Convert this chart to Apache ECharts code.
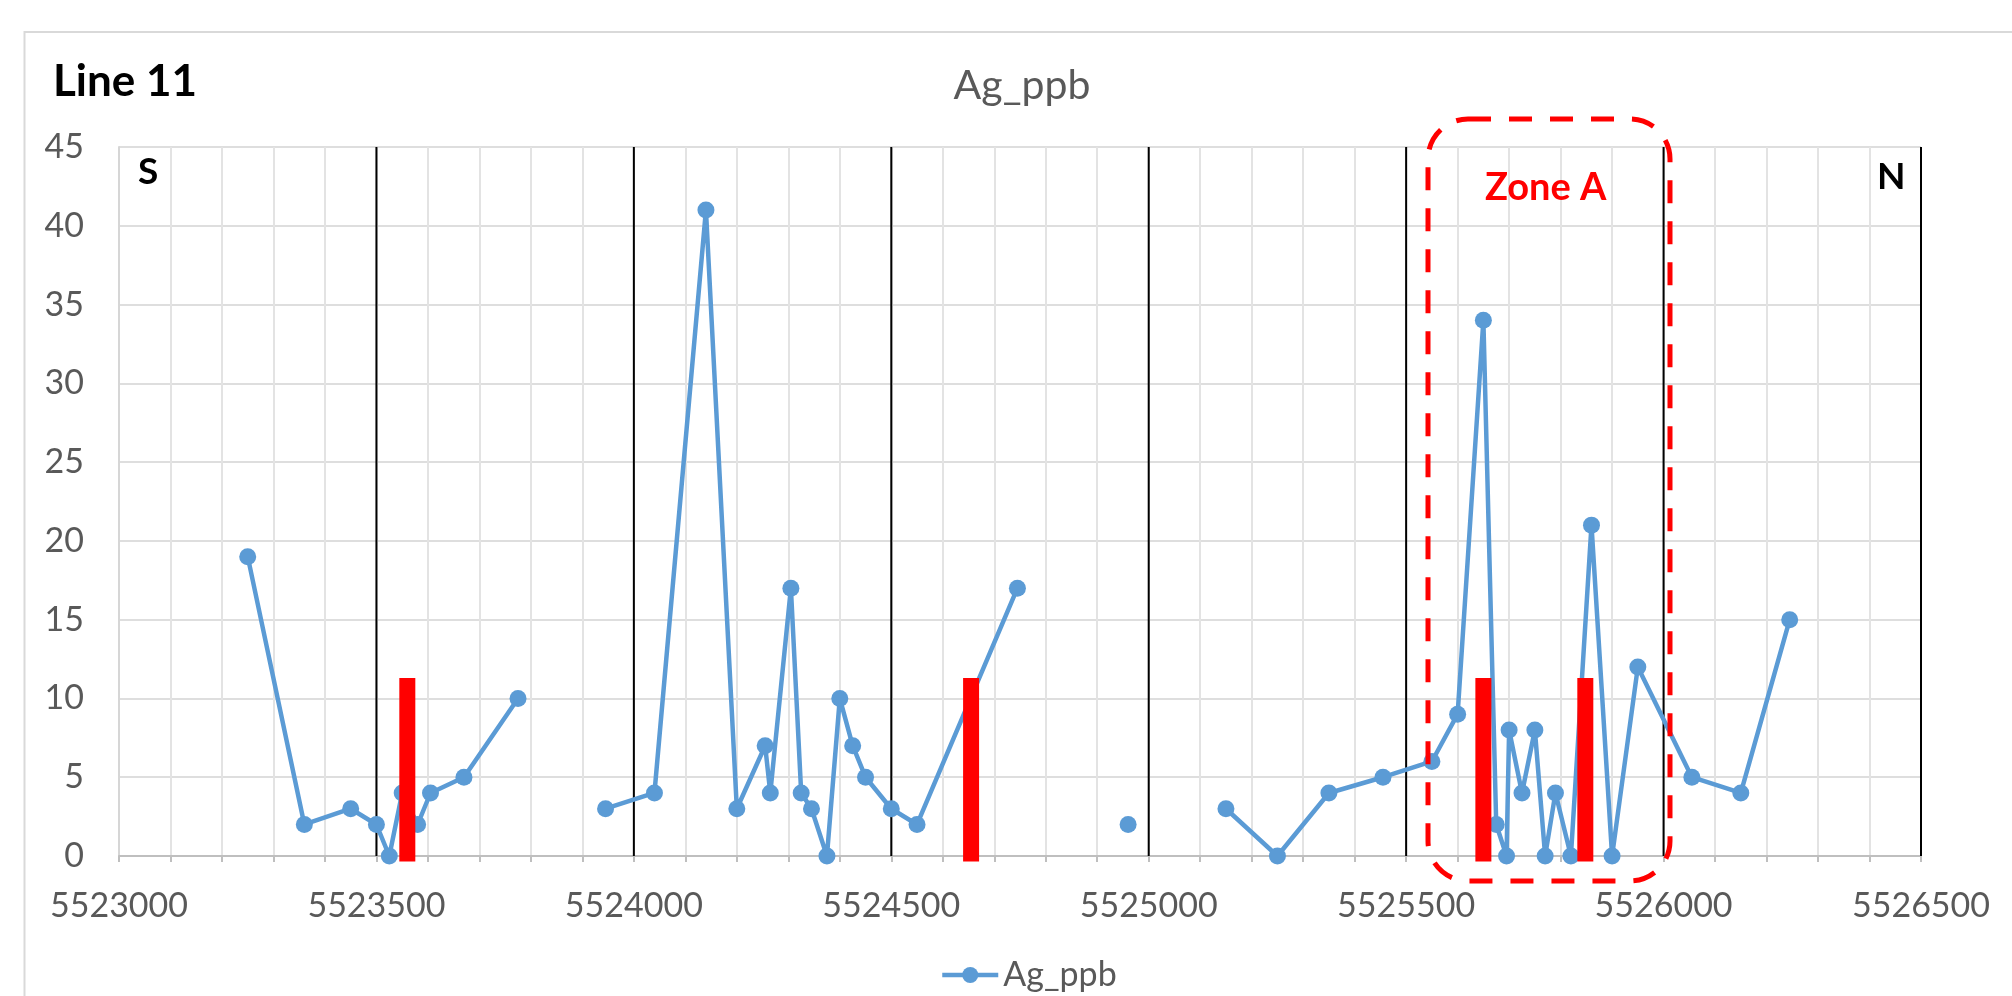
<!DOCTYPE html>
<html>
<head>
<meta charset="utf-8">
<script src="https://cdn.jsdelivr.net/npm/echarts@6/dist/echarts.min.js"></script>
<style>
html,body{margin:0;padding:0;background:#fff;}
#chart{width:2012px;height:996px;}
</style>
</head>
<body>
<div id="chart"></div>
<script>
// ---- data ----
const seriesName = 'Ag_ppb';
// northing of each sample; null marks a gap in the line
const northing = [
  5523250, 5523360, 5523450, 5523500, 5523525, 5523550, 5523580, 5523605, 5523670, 5523775,
  null,
  5523945, 5524040, 5524140, 5524200, 5524255, 5524265, 5524305, 5524325, 5524345, 5524375,
  5524400, 5524425, 5524450, 5524500, 5524550, 5524745,
  null,
  5524960,
  null,
  5525150, 5525250, 5525350, 5525455, 5525550, 5525600, 5525650, 5525675, 5525695, 5525700,
  5525725, 5525750, 5525770, 5525790, 5525820, 5525860, 5525900, 5525950, 5526055, 5526150,
  5526245
];
const agPpb = [
  19, 2, 3, 2, 0, 4, 2, 4, 5, 10,
  null,
  3, 4, 41, 3, 7, 4, 17, 4, 3, 0,
  10, 7, 5, 3, 2, 17,
  null,
  2,
  null,
  3, 0, 4, 5, 6, 9, 34, 2, 0, 8,
  4, 8, 0, 4, 0, 21, 0, 12, 5, 4,
  15
];
// red vertical markers (northing, top value, bottom value)
const redMarkX = [5523560, 5524655, 5525650, 5525848];
const redMarkTop = [11.3, 11.3, 11.3, 11.3];
const redMarkBottom = [-0.35, -0.35, -0.35, -0.35];
// black section lines
const blackLineX = [5523500, 5524000, 5524500, 5525000, 5525500, 5526000, 5526500];
// axes
const xMin = 5523000, xMax = 5526500, xStep = 500;
const yMin = 0, yMax = 45, yStep = 5;

// ---- chart ----
const FONT = 'Lato';
const GREY_TEXT = '#595959';
const chart = echarts.init(document.getElementById('chart'), null, {renderer: 'canvas'});

const lineData = northing.map((x, i) => (x === null || agPpb[i] === null) ? ['-', '-'] : [x, agPpb[i]]);
const redData = redMarkX.map((x, i) => [x, redMarkTop[i], redMarkBottom[i]]);
const blackData = blackLineX.map(x => [x, yMin, yMax]);

const option = {
  backgroundColor: '#fff',
  animation: false,
  title: {
    text: seriesName,
    left: 1017,
    top: 60,
    textAlign: 'center',
    textStyle: {fontFamily: FONT, fontSize: 41, fontWeight: 'normal', color: GREY_TEXT}
  },
  legend: {
    data: [seriesName],
    left: 935,
    top: 953,
    itemWidth: 56,
    itemHeight: 20,
    itemGap: 6,
    lineStyle: {width: 4.5},
    itemStyle: {borderWidth: 0},
    textStyle: {fontFamily: FONT, fontSize: 34, color: GREY_TEXT}
  },
  grid: {left: 119, right: 91, top: 147, bottom: 140, containLabel: false},
  xAxis: {
    type: 'value',
    min: xMin, max: xMax, interval: xStep,
    axisLine: {show: true, lineStyle: {color: '#bfbfbf', width: 2}},
    axisTick: {show: true, inside: false, length: 6, lineStyle: {color: '#bfbfbf', width: 2}},
    minorTick: {show: true, splitNumber: 5, length: 6, lineStyle: {color: '#bfbfbf', width: 2}},
    splitLine: {show: true, lineStyle: {color: '#e3e3e3', width: 2}},
    minorSplitLine: {show: true, lineStyle: {color: '#e3e3e3', width: 2}},
    axisLabel: {fontFamily: FONT, fontSize: 34, color: GREY_TEXT, margin: 33,
                formatter: function (v) { return String(v); }}
  },
  yAxis: {
    type: 'value',
    min: yMin, max: yMax, interval: yStep,
    axisLine: {show: true, lineStyle: {color: '#d6d6d6', width: 2}},
    axisTick: {show: false},
    splitLine: {show: true, lineStyle: {color: '#dedede', width: 2}},
    axisLabel: {fontFamily: FONT, fontSize: 34, color: GREY_TEXT, margin: 35}
  },
  series: [
    {
      type: 'custom',
      name: 'sections',
      z: 1,
      clip: false,
      silent: true,
      encode: {x: 0, y: [1, 2]},
      data: blackData,
      renderItem: function (params, api) {
        const a = api.coord([api.value(0), api.value(2)]);
        const b = api.coord([api.value(0), api.value(1)]);
        return {type: 'line', shape: {x1: a[0], y1: a[1], x2: b[0], y2: b[1]},
                style: {stroke: '#000000', lineWidth: 2}};
      }
    },
    {
      type: 'line',
      name: seriesName,
      z: 3,
      data: lineData,
      connectNulls: false,
      showSymbol: true,
      symbol: 'circle',
      symbolSize: 17,
      lineStyle: {color: '#5b9bd5', width: 4.5},
      itemStyle: {color: '#5b9bd5', borderWidth: 0}
    },
    {
      type: 'custom',
      name: 'markers',
      z: 5,
      clip: false,
      silent: true,
      encode: {x: 0, y: [1, 2]},
      data: redData,
      renderItem: function (params, api) {
        const t = api.coord([api.value(0), api.value(1)]);
        const b = api.coord([api.value(0), api.value(2)]);
        const w = 16;
        return {type: 'rect', shape: {x: t[0] - w / 2, y: t[1], width: w, height: b[1] - t[1]},
                style: {fill: '#ff0000'}};
      }
    }
  ],
  graphic: [
    {type: 'rect', z: 0, silent: true, shape: {x: 24.5, y: 32, width: 2100, height: 1100},
     style: {fill: 'none', stroke: '#d9d9d9', lineWidth: 2}},
    {type: 'text', z: 10, left: 53, top: 60,
     style: {text: 'Line 11', fontFamily: FONT, fontSize: 44, fontWeight: 'bold', fill: '#000'}},
    {type: 'text', z: 10, left: 138, top: 154,
     style: {text: 'S', fontFamily: FONT, fontSize: 37, fontWeight: 'bold', fill: '#000'}},
    {type: 'text', z: 10, left: 1877, top: 159,
     style: {text: 'N', fontFamily: FONT, fontSize: 37, fontWeight: 'bold', fill: '#000'}},
    {type: 'text', z: 10, left: 1485, top: 169,
     style: {text: 'Zone A', fontFamily: FONT, fontSize: 38, fontWeight: 'bold', fill: '#ff0000'}},
    {type: 'rect', z: 10, silent: true,
     shape: {x: 1428, y: 119, width: 242, height: 762, r: 40},
     style: {fill: 'none', stroke: '#ff0000', lineWidth: 5, lineDash: [23, 18]}}
  ]
};
chart.setOption(option);
</script>
</body>
</html>
